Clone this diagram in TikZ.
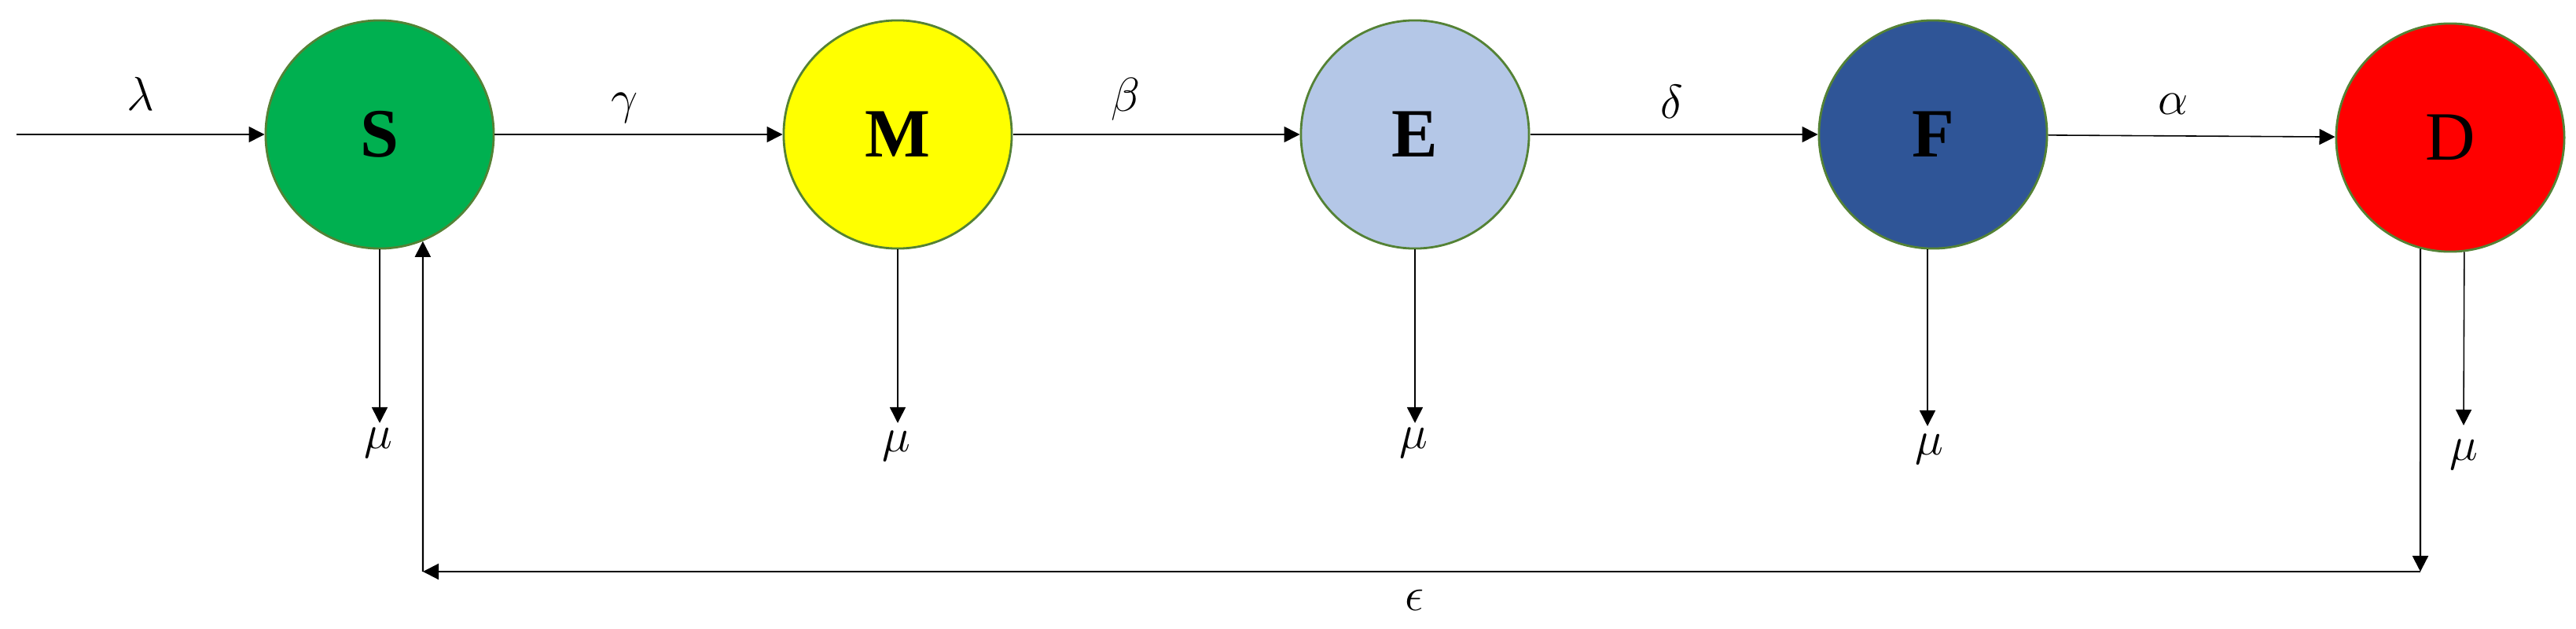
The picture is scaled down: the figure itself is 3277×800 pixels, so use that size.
\documentclass[tikz,border=0pt]{standalone}
\usepackage{fontspec}
\setmainfont{Liberation Serif}
\usetikzlibrary{arrows.meta}
\definecolor{cS}{RGB}{0,176,80}
\definecolor{cM}{RGB}{255,255,0}
\definecolor{cE}{RGB}{180,199,231}
\definecolor{cF}{RGB}{47,85,151}
\definecolor{cD}{RGB}{255,0,0}
\definecolor{rim}{RGB}{84,130,53}
\begin{document}
\begin{tikzpicture}[x=0.01cm,y=-0.01cm,
  comp/.style={circle,draw=rim,line width=0.8pt,minimum size=2.9cm,inner sep=0pt,font=\fontsize{25}{30}\selectfont},
  flow/.style={line width=0.45pt,-{Triangle[length=0.2cm,width=0.2cm]}},
  back/.style={line width=0.6pt,-{Triangle[length=0.2cm,width=0.2cm]}},
  lab/.style={font=\fontsize{19}{23}\selectfont,inner sep=0pt}]
\useasboundingbox (0,0) rectangle (3277,800);
% compartments
\node[comp,fill=cS] (S) at (483,171) {\bfseries S};
\node[comp,fill=cM] (M) at (1142,171) {\bfseries M};
\node[comp,fill=cE] (E) at (1800,171) {\bfseries E};
\node[comp,fill=cF] (F) at (2459,171) {\bfseries F};
\node[comp,fill=cD] (D) at (3117,175) {D};
% inflow and transfers
\coordinate (in) at (21,171);
\draw[flow] (in) -- (S);
\draw[flow] (S) -- (M);
\draw[flow] (M) -- (E);
\draw[flow] (E) -- (F);
\draw[flow] (F) -- (D);
\node[lab] (lam) at (179,119) {$\lambda$};
\node[lab] (gam) at (795,137) {$\gamma$};
\node[lab] (bet) at (1432,126) {$\beta$};
\node[lab] (del) at (2127,129) {$\delta$};
\node[lab] (alp) at (2765,132) {$\alpha$};
% deaths
\coordinate (muS) at (483,538);
\coordinate (muM) at (1142,538);
\coordinate (muE) at (1800,538);
\coordinate (muF) at (2452,542);
\coordinate (muD) at (3134,541);
\draw[flow] (S.south) -- (muS);
\draw[flow] (M.south) -- (muM);
\draw[flow] (E.south) -- (muE);
\draw[flow] (F.south -| muF) -- (muF);
\draw[flow] (D.-83) -- (muD);
\node[lab] (lS) at (481,563) {$\mu$};
\node[lab] (lM) at (1140,567) {$\mu$};
\node[lab] (lE) at (1798,563) {$\mu$};
\node[lab] (lF) at (2454,571) {$\mu$};
\node[lab] (lD) at (3134,578) {$\mu$};
% feedback
\coordinate (c1) at (3079,727);
\coordinate (c2) at (538,727);
\draw[back] (D.-105) -- (c1);
\draw[back] (c1) -- (c2);
\draw[back] (c2) -- (S.-68);
\node[lab] (eps) at (1799,763) {$\epsilon$};
\end{tikzpicture}
\end{document}
